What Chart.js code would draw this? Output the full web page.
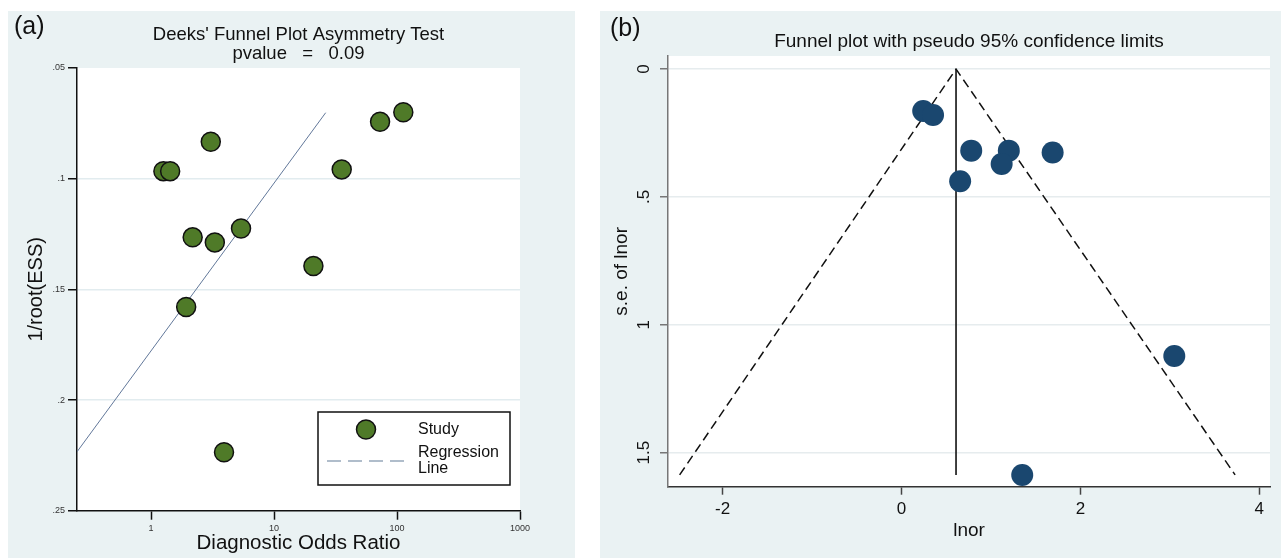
<!DOCTYPE html>
<html>
<head>
<meta charset="utf-8">
<script src="https://cdn.jsdelivr.net/npm/chart.js@4.4.1/dist/chart.umd.min.js"></script>
<style>
  html, body { margin: 0; padding: 0; background: #fff; width: 1281px; height: 558px; overflow: hidden; }
  body { font-family: "Liberation Sans", Arial, sans-serif; }
  .panel { position: absolute; top: 11px; height: 547px; background: #eaf2f3; }
  #panelA { left: 8px; width: 567px; }
  #panelB { left: 600px; width: 681px; }
  .panel canvas { position: absolute; left: 0; top: 0; }
  .tag { position: absolute; font-size: 25px; line-height: 1; color: #111; }
</style>
</head>
<body>
<div class="panel" id="panelA">
  <canvas id="chartA" width="567" height="547"></canvas>
  <span class="tag" style="left:6px; top:2px">(a)</span>
</div>
<div class="panel" id="panelB">
  <canvas id="chartB" width="681" height="547"></canvas>
  <span class="tag" style="left:10px; top:4px">(b)</span>
</div>
<script>
// (a) Deeks' funnel plot
const dorValues  = [1.26, 1.43, 3.06, 2.18, 3.30, 5.39, 1.93, 3.92, 20.9, 35.5, 72.8, 112.5];
const essInvRoot = [0.0966, 0.0966, 0.0833, 0.1265, 0.1288, 0.1225, 0.158, 0.2236, 0.1395, 0.0958, 0.0743, 0.070];
const regLineDor = [0.25, 26.3];
const regLineEss = [0.2234, 0.0702];
const dorTicks = [1, 10, 100, 1000];
const essTicks = [0.05, 0.1, 0.15, 0.2, 0.25];

// (b) funnel plot with pseudo 95% limits
const lnor   = [0.243, 0.353, 0.78, 1.20, 1.12, 1.69, 0.656, 3.05, 1.35];
const seLnor = [0.164, 0.18, 0.319, 0.319, 0.371, 0.326, 0.439, 1.122, 1.587];
const pooledLnor = [0.61, 0.61];
const pooledSe   = [0, 1.587];
const limitLnor  = [-2.48, 0.61, 3.73];
const limitSe    = [1.587, 0, 1.587];
const lnorTicks = [-2, 0, 2, 4];
const seTicks   = [0, 0.5, 1, 1.5];

const GREEN = '#4f7a28';
const NAVY = '#1a476f';
const REG = '#62789a';

Chart.defaults.font.family = '"Liberation Sans", Arial, sans-serif';
Chart.defaults.color = '#222';

function pairs(xs, ys) {
  return xs.map((v, i) => ({ x: v, y: ys[i] }));
}

// stata style labels: .05, .1, .5 ...
function dotLabel(v) {
  let s = String(+(+v).toFixed(2));
  return s.replace(/^0\./, '.');
}

const whiteArea = {
  id: 'whiteArea',
  beforeDraw(chart) {
    const { ctx, chartArea: a } = chart;
    ctx.save();
    ctx.fillStyle = '#fff';
    ctx.fillRect(a.left, a.top, a.width, a.height);
    ctx.restore();
  }
};

// legend box inside plot (a)
const studyLegend = {
  id: 'studyLegend',
  afterDraw(chart) {
    const ctx = chart.ctx;
    const study = chart.data.datasets[1];
    ctx.save();
    ctx.fillStyle = '#fff';
    ctx.fillRect(310, 401, 192, 73);
    ctx.strokeStyle = '#111';
    ctx.lineWidth = 1.5;
    ctx.strokeRect(310, 401, 192, 73);

    ctx.beginPath();
    ctx.arc(358, 418.5, study.pointRadius, 0, Math.PI * 2);
    ctx.fillStyle = study.backgroundColor;
    ctx.fill();
    ctx.lineWidth = study.borderWidth;
    ctx.strokeStyle = study.borderColor;
    ctx.stroke();

    ctx.beginPath();
    ctx.setLineDash([14, 7]);
    ctx.strokeStyle = '#97a8bb';
    ctx.lineWidth = 1.5;
    ctx.moveTo(319, 450);
    ctx.lineTo(398, 450);
    ctx.stroke();
    ctx.setLineDash([]);

    ctx.fillStyle = '#111';
    ctx.font = '16px "Liberation Sans", Arial, sans-serif';
    ctx.textBaseline = 'middle';
    ctx.fillText('Study', 410, 419);
    ctx.fillText('Regression', 410, 442);
    ctx.fillText('Line', 410, 458);
    ctx.restore();
  }
};

new Chart(document.getElementById('chartA'), {
  type: 'scatter',
  data: {
    datasets: [
      {
        label: 'Regression Line',
        data: pairs(regLineDor, regLineEss),
        showLine: true,
        pointRadius: 0,
        borderColor: REG,
        borderWidth: 1,
        order: 2
      },
      {
        label: 'Study',
        data: pairs(dorValues, essInvRoot),
        pointRadius: 9.5,
        backgroundColor: GREEN,
        borderColor: '#111',
        borderWidth: 1.5,
        order: 1
      }
    ]
  },
  options: {
    responsive: false,
    animation: false,
    layout: { padding: { left: 0, right: 55, top: 0, bottom: 0 } },
    plugins: {
      legend: { display: false },
      tooltip: { enabled: false },
      title: {
        display: true,
        fullSize: false,
        text: ["Deeks' Funnel Plot Asymmetry Test", 'pvalue   =   0.09'],
        font: { size: 18.5, weight: 'normal', lineHeight: 1 },
        color: '#111',
        padding: { top: 15, bottom: 5 }
      }
    },
    scales: {
      x: {
        type: 'logarithmic',
        min: 0.25,
        max: 1000,
        afterBuildTicks: (s) => { s.ticks = dorTicks.map((v) => ({ value: v })); },
        afterFit: (s) => { s.height = 47.3; },
        ticks: { font: { size: 9 }, padding: 3, color: '#333', autoSkip: false, maxRotation: 0, callback: (v) => String(v) },
        grid: { drawOnChartArea: false, tickLength: 9, tickColor: '#111', tickWidth: 1.5 },
        border: { color: '#111', width: 1.5 },
        title: { display: true, text: 'Diagnostic Odds Ratio', font: { size: 20.5 }, color: '#111', padding: { top: 0, bottom: 2 } }
      },
      y: {
        type: 'linear',
        reverse: true,
        min: 0.05,
        max: 0.25,
        afterBuildTicks: (s) => { s.ticks = essTicks.map((v) => ({ value: v })); },
        afterFit: (s) => { s.width = 69; },
        ticks: { font: { size: 9 }, padding: 3, color: '#333', callback: dotLabel },
        grid: {
          color: (c) => (c.tick && (c.tick.value === 0.05 || c.tick.value === 0.25)) ? 'rgba(0,0,0,0)' : '#e2ecef',
          lineWidth: 1.5,
          tickLength: 9,
          tickColor: '#111'
        },
        border: { color: '#111', width: 1.5 },
        title: { display: true, text: '1/root(ESS)', font: { size: 20 }, color: '#111', padding: { top: 16, bottom: 0 } }
      }
    }
  },
  plugins: [whiteArea, studyLegend]
});

new Chart(document.getElementById('chartB'), {
  type: 'scatter',
  data: {
    datasets: [
      {
        label: 'pseudo 95% limits',
        data: pairs(limitLnor, limitSe),
        showLine: true,
        pointRadius: 0,
        borderColor: '#111',
        borderWidth: 1.5,
        borderDash: [9, 5],
        order: 3
      },
      {
        label: 'pooled',
        data: pairs(pooledLnor, pooledSe),
        showLine: true,
        pointRadius: 0,
        borderColor: '#111',
        borderWidth: 1.6,
        order: 2
      },
      {
        label: 'studies',
        data: pairs(lnor, seLnor),
        pointRadius: 11,
        backgroundColor: NAVY,
        borderWidth: 0,
        order: 1
      }
    ]
  },
  options: {
    responsive: false,
    animation: false,
    layout: { padding: { left: 0, right: 3, top: 0, bottom: 0 } },
    plugins: {
      legend: { display: false },
      tooltip: { enabled: false },
      title: {
        display: true,
        fullSize: false,
        text: 'Funnel plot with pseudo 95% confidence limits',
        font: { size: 19, weight: 'normal', lineHeight: 1.2 },
        color: '#111',
        padding: { top: 19.6, bottom: 2.6 }
      }
    },
    scales: {
      x: {
        type: 'linear',
        min: -2.61,
        max: 4.12,
        afterBuildTicks: (s) => { s.ticks = lnorTicks.map((v) => ({ value: v })); },
        afterFit: (s) => { s.height = 71.3; },
        ticks: { font: { size: 17 }, padding: 4, color: '#111', autoSkip: false, maxRotation: 0 },
        grid: { drawOnChartArea: false, tickLength: 8, tickColor: '#444', tickWidth: 1.5 },
        border: { color: '#333', width: 1.5 },
        title: { display: true, text: 'lnor', font: { size: 19 }, color: '#111', padding: { top: 0, bottom: 16 } }
      },
      y: {
        type: 'linear',
        reverse: true,
        min: -0.051,
        max: 1.633,
        afterBuildTicks: (s) => { s.ticks = seTicks.map((v) => ({ value: v })); },
        afterFit: (s) => { s.width = 68; },
        ticks: { font: { size: 17 }, padding: 4, color: '#111', minRotation: 90, maxRotation: 90, crossAlign: 'center', callback: dotLabel },
        grid: { color: '#e6ecee', lineWidth: 1.5, tickLength: 8, tickColor: '#777' },
        border: { color: '#777', width: 1.5 },
        title: { display: true, text: 's.e. of lnor', font: { size: 19 }, color: '#111', padding: { top: 10.6, bottom: 0 } }
      }
    }
  },
  plugins: [whiteArea]
});
</script>
</body>
</html>
